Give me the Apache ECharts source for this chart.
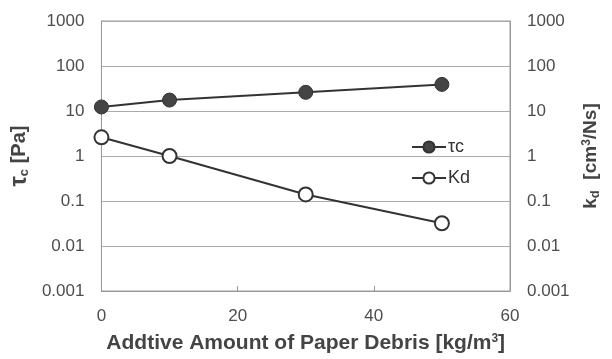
<!DOCTYPE html>
<html>
<head>
<meta charset="utf-8">
<script src="https://cdn.jsdelivr.net/npm/echarts@6/dist/echarts.min.js"></script>
<style>
	html, body { margin: 0; padding: 0; background: #fff; }
	#chart { width: 612px; height: 359px; }
</style>
</head>
<body>
<div id="chart"></div>
<script>
	// paper debris amount [kg/m3]
	const debris = [0, 10, 30, 50];
	const tauC = [12.3, 17.5, 26, 39];
	const kd = [2.6, 1.0, 0.14, 0.032];
	const yTickLabels = ['0.001', '0.01', '0.1', '1', '10', '100', '1000'];

	const lineColor = '#333';
	const fontFam = 'Liberation Sans, Arial, sans-serif';

	const logLabel = function(v) {
		const i = Math.round(Math.log10(v)) + 3;
		return yTickLabels[i] !== undefined ? yTickLabels[i] : '';
	};

	const rich = function(size) {
		return {
			a: { fontSize: size, fontWeight: 'bold', color: '#444', fontFamily: fontFam },
			t: { fontSize: size + 3, fontWeight: 'bold', color: '#444', fontFamily: fontFam },
			s: { fontSize: 13, fontWeight: 'bold', color: '#444', fontFamily: fontFam, verticalAlign: 'bottom', padding: [8, 0, 0, 0] },
			p: { fontSize: 12, fontWeight: 'bold', color: '#444', fontFamily: fontFam, verticalAlign: 'top', padding: [0, 0, 8, 0] }
		};
	};

	const myChart = echarts.init(document.getElementById('chart'));
	const option = {
		animation: false,
		backgroundColor: '#fff',
		grid: {
			left: 99,
			right: 102,
			top: 21,
			bottom: 63,
			show: true,
			borderColor: '#999',
			borderWidth: 1
		},
		legend: {
			orient: 'vertical',
			left: 406,
			top: 133,
			itemWidth: 34,
			itemHeight: 14,
			itemGap: 13,
			textStyle: { fontSize: 18, color: '#333', fontFamily: fontFam, padding: [0, 0, 0, -3] },
			data: ['τc', 'Kd']
		},
		xAxis: {
			type: 'value',
			min: 0,
			max: 60,
			interval: 20,
			name: '{a|Addtive Amount of Paper Debris [kg/m}{p|3}{a|]}',
			nameLocation: 'middle',
			nameGap: 42,
			nameTextStyle: { rich: rich(21) },
			axisLine: { show: true, lineStyle: { color: '#999' } },
			axisTick: { show: true, inside: true, length: 5, lineStyle: { color: '#999' } },
			axisLabel: { fontSize: 17, color: '#4d4d4d', fontFamily: fontFam, margin: 17 },
			splitLine: { show: false }
		},
		yAxis: [{
				type: 'log',
				logBase: 10,
				min: 0.001,
				max: 1000,
				name: '{t|τ}{s|c}{a| [Pa]}',
				nameLocation: 'middle',
				nameGap: 57,
				nameRotate: 90,
				nameTextStyle: { rich: rich(20) },
				axisLine: { show: true, lineStyle: { color: '#999' } },
				axisTick: { show: false },
				axisLabel: { fontSize: 17, color: '#4d4d4d', fontFamily: fontFam, margin: 17, formatter: logLabel },
				splitLine: { show: true, lineStyle: { color: '#aaa', width: 1 } },
				minorTick: { show: false }
			},
			{
				type: 'log',
				logBase: 10,
				min: 0.001,
				max: 1000,
				position: 'right',
				name: '{a|k}{s|d}{a|  [cm}{p|3}{a|/Ns]}',
				nameLocation: 'middle',
				nameGap: 64,
				nameRotate: 90,
				nameTextStyle: { rich: rich(19) },
				axisLine: { show: true, lineStyle: { color: '#999' } },
				axisTick: { show: false },
				axisLabel: { fontSize: 17, color: '#4d4d4d', fontFamily: fontFam, margin: 17, formatter: logLabel },
				splitLine: { show: false }
			}
		],
		series: [{
				name: 'τc',
				type: 'line',
				data: debris.map((x, i) => [x, tauC[i]]),
				symbol: 'circle',
				symbolSize: 14,
				lineStyle: { color: lineColor, width: 2 },
				itemStyle: { color: '#444', borderColor: '#333', borderWidth: 1 }
			},
			{
				name: 'Kd',
				type: 'line',
				yAxisIndex: 1,
				data: debris.map((x, i) => [x, kd[i]]),
				symbol: 'circle',
				symbolSize: 14,
				lineStyle: { color: lineColor, width: 2 },
				itemStyle: { color: '#fff', borderColor: '#333', borderWidth: 2 }
			}
		]
	};
	myChart.setOption(option);
</script>
</body>
</html>
